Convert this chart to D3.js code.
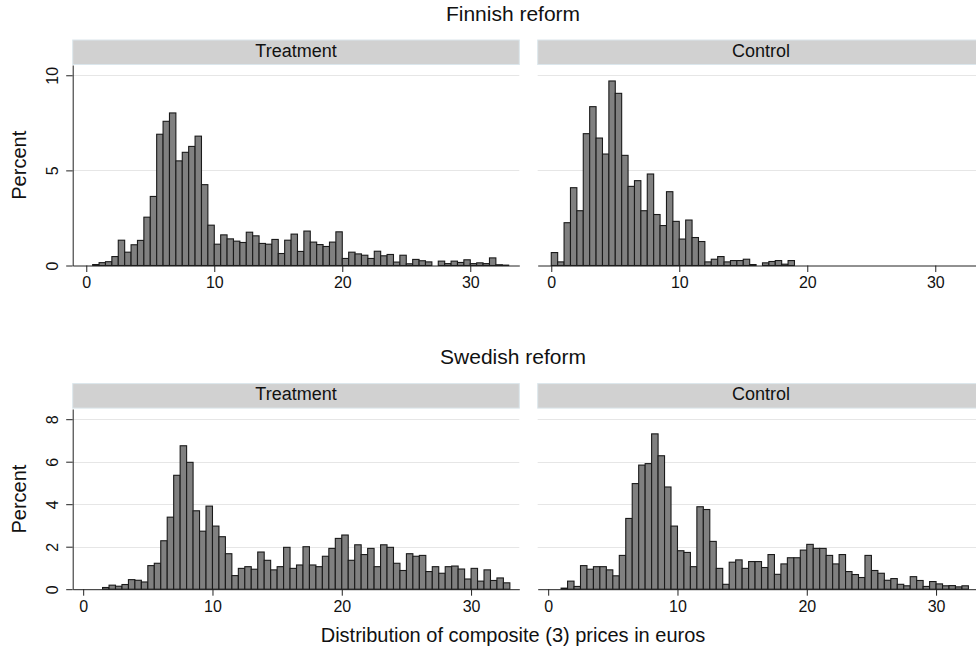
<!DOCTYPE html>
<html lang="en">
<head>
    <meta charset="utf-8">
    <title>D3 - composite price histograms</title>
    <style>
        body { margin: 0; background: #fff; }
        svg { display: block; font-family: "Liberation Sans", Arial, Helvetica, sans-serif; }
    </style>
</head>
<body>

<script src="https://cdn.jsdelivr.net/npm/d3@7/dist/d3.min.js"></script>
<script>
    // bins are 0.5 euro wide, values are percent of the group
    var binWidth = 0.5;
    var xTicks = [0, 10, 20, 30];
    var finYTicks = [0, 5, 10];
    var sweYTicks = [0, 2, 4, 6, 8];
    var panelNames = ["Treatment", "Control"];
    var groupTitles = ["Finnish reform", "Swedish reform"];
    var xTitle = "Distribution of composite (3) prices in euros";
    var yTitle = "Percent";

    // Finnish reform, treatment (first bin starts at 0.5)
    var finTreatStart = 0.5;
    var finTreat = [0.05, 0.15, 0.2, 0.47, 1.33, 0.7, 1.09, 1.32, 2.54, 3.63,
        6.9, 7.58, 8.02, 5.5, 5.95, 6.26, 6.8, 4.25, 2.12, 1.12,
        1.61, 1.4, 1.28, 1.21, 1.75, 1.56, 1.16, 1.12, 1.37, 0.63,
        1.33, 1.65, 0.74, 1.81, 1.23, 1.1, 1.0, 1.23, 1.77, 0.37,
        0.7, 0.61, 0.54, 0.37, 0.75, 0.51, 0.58, 0.18, 0.54, 0.09,
        0.32, 0.25, 0.19, 0, 0.23, 0.1, 0.23, 0.16, 0.3, 0.1,
        0.14, 0.1, 0.4, 0.04, 0.02];

    // Finnish reform, control (first bin starts at 0)
    var finControlStart = 0;
    var finControl = [0.68, 0.19, 2.25, 4.09, 2.88, 6.93, 8.35, 6.7, 5.86, 9.7,
        9.05, 5.79, 4.16, 4.46, 2.88, 4.81, 2.68, 2.1, 3.88, 2.32,
        1.39, 2.39, 1.47, 1.26, 0.19, 0.33, 0.47, 0.19, 0.26, 0.26,
        0.33, 0.05, 0, 0.14, 0.21, 0.26, 0.07, 0.26];

    // Swedish reform, treatment (first bin starts at 1.5)
    var sweTreatStart = 1.5;
    var sweTreat = [0.08, 0.19, 0.14, 0.22, 0.45, 0.42, 0.34, 1.11, 1.22, 2.28,
        3.39, 5.36, 6.75, 5.97, 3.69, 2.73, 3.91, 2.97, 2.47, 1.67,
        0.64, 0.98, 1.06, 0.94, 1.75, 1.36, 0.91, 1.06, 1.97, 0.98,
        1.14, 2.0, 1.14, 1.06, 1.55, 1.92, 2.39, 2.55, 1.36, 2.09,
        1.63, 1.92, 1.06, 2.09, 1.97, 1.22, 0.88, 1.67, 1.55, 1.59,
        0.83, 1.06, 0.75, 1.06, 1.09, 0.95, 0.48, 0.98, 0.38, 0.91,
        0.41, 0.53, 0.3];

    // Swedish reform, control (first bin starts at 1.0)
    var sweControlStart = 1;
    var sweControl = [0.05, 0.38, 0.13, 1.11, 0.94, 1.06, 1.06, 0.91, 0.63, 1.59,
        3.33, 4.97, 5.84, 5.91, 7.31, 6.28, 4.81, 2.97, 1.81, 1.73,
        1.06, 3.88, 3.75, 2.25, 0.98, 0.23, 1.27, 1.38, 0.98, 1.3,
        1.3, 1.02, 1.63, 0.7, 1.19, 1.48, 1.48, 1.84, 2.11, 1.92,
        1.92, 1.59, 1.19, 1.63, 0.83, 0.69, 0.55, 1.59, 0.88, 0.75,
        0.42, 0.5, 0.23, 0.16, 0.59, 0.41, 0.13, 0.36, 0.25, 0.16,
        0.17, 0.11, 0.16];

    function toBins(start, values) {
        return values.map(function (v, i) {
            return {x0: start + i * binWidth, x1: start + (i + 1) * binWidth, v: v};
        });
    }

    function main() {
        var width = 976,
            height = 650;

        var svg = d3.select("body").append("svg")
            .attr("width", width)
            .attr("height", height);

        var panelW = 446.6;
        var panelX = [72.7, 537.7];
        var midX = 513;

        var groups = [
            {
                title: groupTitles[0], titleY: 20.7, stripY: 40, top: 65, base: 265.5,
                yMax: 10.54, yTicks: finYTicks, xDomain: [-1.06, 33.83],
                series: [toBins(finTreatStart, finTreat), toBins(finControlStart, finControl)]
            },
            {
                title: groupTitles[1], titleY: 364, stripY: 383.6, top: 409, base: 589.2,
                yMax: 8.48, yTicks: sweYTicks, xDomain: [-0.81, 33.73],
                series: [toBins(sweTreatStart, sweTreat), toBins(sweControlStart, sweControl)]
            }
        ];

        groups.forEach(function (g) {
            svg.append("text")
                .attr("x", midX)
                .attr("y", g.titleY)
                .attr("text-anchor", "middle")
                .attr("font-size", 21)
                .attr("fill", "#111")
                .text(g.title);

            var y = d3.scaleLinear().domain([0, g.yMax]).range([g.base, g.top]);

            g.series.forEach(function (bins, i) {
                var left = panelX[i];
                var x = d3.scaleLinear().domain(g.xDomain).range([left, left + panelW]);
                var p = svg.append("g");

                // strip with the panel name
                p.append("rect")
                    .attr("x", left)
                    .attr("y", g.stripY)
                    .attr("width", panelW)
                    .attr("height", 24.5)
                    .attr("fill", "#d1d1d1")
                    .attr("stroke", "#dbe6ec")
                    .attr("stroke-width", 1);
                p.append("text")
                    .attr("x", left + panelW / 2)
                    .attr("y", g.stripY + 16.6)
                    .attr("text-anchor", "middle")
                    .attr("font-size", 18)
                    .attr("fill", "#111")
                    .text(panelNames[i]);

                // horizontal grid
                p.selectAll(".grid")
                    .data(g.yTicks.filter(function (t) { return t > 0; }))
                    .enter().append("line")
                    .attr("x1", left)
                    .attr("x2", left + panelW)
                    .attr("y1", function (d) { return Math.round(y(d)) + 0.5; })
                    .attr("y2", function (d) { return Math.round(y(d)) + 0.5; })
                    .attr("stroke", "#e6e6e6")
                    .attr("stroke-width", 1);

                // bars
                p.selectAll(".bar")
                    .data(bins.filter(function (d) { return d.v > 0; }))
                    .enter().append("rect")
                    .attr("x", function (d) { return x(d.x0); })
                    .attr("y", function (d) { return y(d.v); })
                    .attr("width", function (d) { return x(d.x1) - x(d.x0); })
                    .attr("height", function (d) { return y(0) - y(d.v); })
                    .attr("fill", "#808080")
                    .attr("stroke", "#1a1a1a")
                    .attr("stroke-width", 1.1);

                // x axis
                var xAxis = p.append("g")
                    .attr("transform", "translate(0," + g.base + ")")
                    .call(d3.axisBottom(x).tickValues(xTicks).tickSize(6.5).tickSizeOuter(0));
                xAxis.select(".domain").attr("stroke", "#222");
                xAxis.selectAll(".tick line").attr("stroke", "#222");
                xAxis.selectAll(".tick text")
                    .attr("y", 22.7)
                    .attr("dy", 0)
                    .attr("font-size", 16)
                    .attr("font-family", null)
                    .attr("fill", "#111");

                // y axis only on the left panel
                if (i === 0) {
                    var yAxis = p.append("g")
                        .attr("transform", "translate(" + left + ",0)")
                        .call(d3.axisLeft(y).tickValues(g.yTicks).tickSize(6.5).tickSizeOuter(0));
                    yAxis.select(".domain").attr("stroke", "#222");
                    yAxis.selectAll(".tick line").attr("stroke", "#222");
                    yAxis.selectAll(".tick text")
                        .attr("transform", "rotate(-90)")
                        .attr("x", 0)
                        .attr("y", -14.4)
                        .attr("dy", 0)
                        .attr("text-anchor", "middle")
                        .attr("font-size", 16)
                        .attr("font-family", null)
                        .attr("fill", "#111");

                    svg.append("text")
                        .attr("transform", "translate(26," + ((g.top + g.base) / 2) + ") rotate(-90)")
                        .attr("text-anchor", "middle")
                        .attr("font-size", 20)
                        .attr("fill", "#111")
                        .text(yTitle);
                }
            });
        });

        svg.append("text")
            .attr("x", midX)
            .attr("y", 642.3)
            .attr("text-anchor", "middle")
            .attr("font-size", 20)
            .attr("fill", "#111")
            .text(xTitle);
    }

    window.onload = function () {
        main();
    };
</script>
</body>
</html>
